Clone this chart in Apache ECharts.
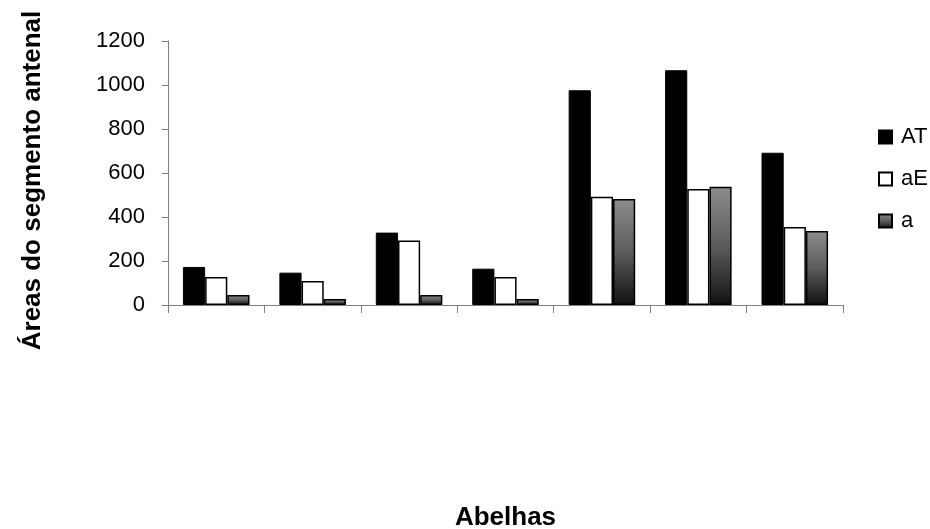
<!DOCTYPE html>
<html>
<head>
<meta charset="utf-8">
<script src="https://cdn.jsdelivr.net/npm/echarts@6/dist/echarts.min.js"></script>
<style>html,body{margin:0;padding:0;background:#fff}#c{width:930px;height:529px}</style>
</head>
<body>
<div id="c"></div>
<script>
const categories = ['1', '2', '3', '4', '5', '6', '7'];
const seriesAT = [173, 147, 329, 165, 976, 1067, 692];
const seriesaE = [127, 109, 293, 127, 492, 527, 355];
const seriesa = [45, 27, 45, 27, 482, 538, 336];
const yTicks = [0, 200, 400, 600, 800, 1000, 1200];

const chart = echarts.init(document.getElementById('c'));
const font = "'Liberation Sans', Arial, sans-serif";
const axisCol = '#808080';
const grad = new echarts.graphic.LinearGradient(0, 0, 0, 1, [
  {offset: 0, color: '#8c8c8c'},
  {offset: 0.5, color: '#5c5c5c'},
  {offset: 1, color: '#111'}
]);
chart.setOption({
  animation: false,
  backgroundColor: '#fff',
  textStyle: {fontFamily: font},
  grid: {left: 168, right: 87, top: 41, bottom: 224, outerBoundsMode: 'none'},
  legend: {
    orient: 'vertical', left: 873, top: 121, itemGap: 20,
    itemWidth: 13, itemHeight: 13, icon: 'rect',
    textStyle: {fontSize: 22, color: '#000', fontFamily: font, padding: [0, 0, 0, 4]},
    data: ['AT', 'aE', 'a']
  },
  xAxis: {
    type: 'category', data: categories,
    name: 'Abelhas', nameLocation: 'middle', nameGap: 200,
    nameTextStyle: {fontSize: 26, fontWeight: 'bold', color: '#000', fontFamily: font},
    axisLine: {lineStyle: {color: axisCol, width: 1}},
    axisTick: {show: true, length: 8, lineStyle: {color: axisCol}},
    axisLabel: {show: false}
  },
  yAxis: {
    type: 'value', min: 0, max: 1200, interval: 200,
    name: 'Áreas do segmento antenal', nameLocation: 'middle', nameGap: 122,
    nameTextStyle: {fontSize: 26, fontWeight: 'bold', color: '#000', fontFamily: font,
      padding: [0, 15, 0, 0]},
    axisLine: {show: true, lineStyle: {color: axisCol, width: 1}},
    axisTick: {show: true, length: 6, lineStyle: {color: axisCol}},
    axisLabel: {fontSize: 22, color: '#000', margin: 23, fontFamily: font,
      formatter: v => yTicks.includes(v) ? String(v) : ''},
    splitLine: {show: false}
  },
  series: [
    {name: 'AT', type: 'bar', data: seriesAT, barGap: '0%', barCategoryGap: '31%',
     itemStyle: {color: '#000', borderColor: '#000', borderWidth: 1}},
    {name: 'aE', type: 'bar', data: seriesaE,
     itemStyle: {color: '#fff', borderColor: '#000', borderWidth: 1.5}},
    {name: 'a', type: 'bar', data: seriesa,
     itemStyle: {color: grad, borderColor: '#000', borderWidth: 1.5}}
  ]
});
</script>
</body>
</html>
